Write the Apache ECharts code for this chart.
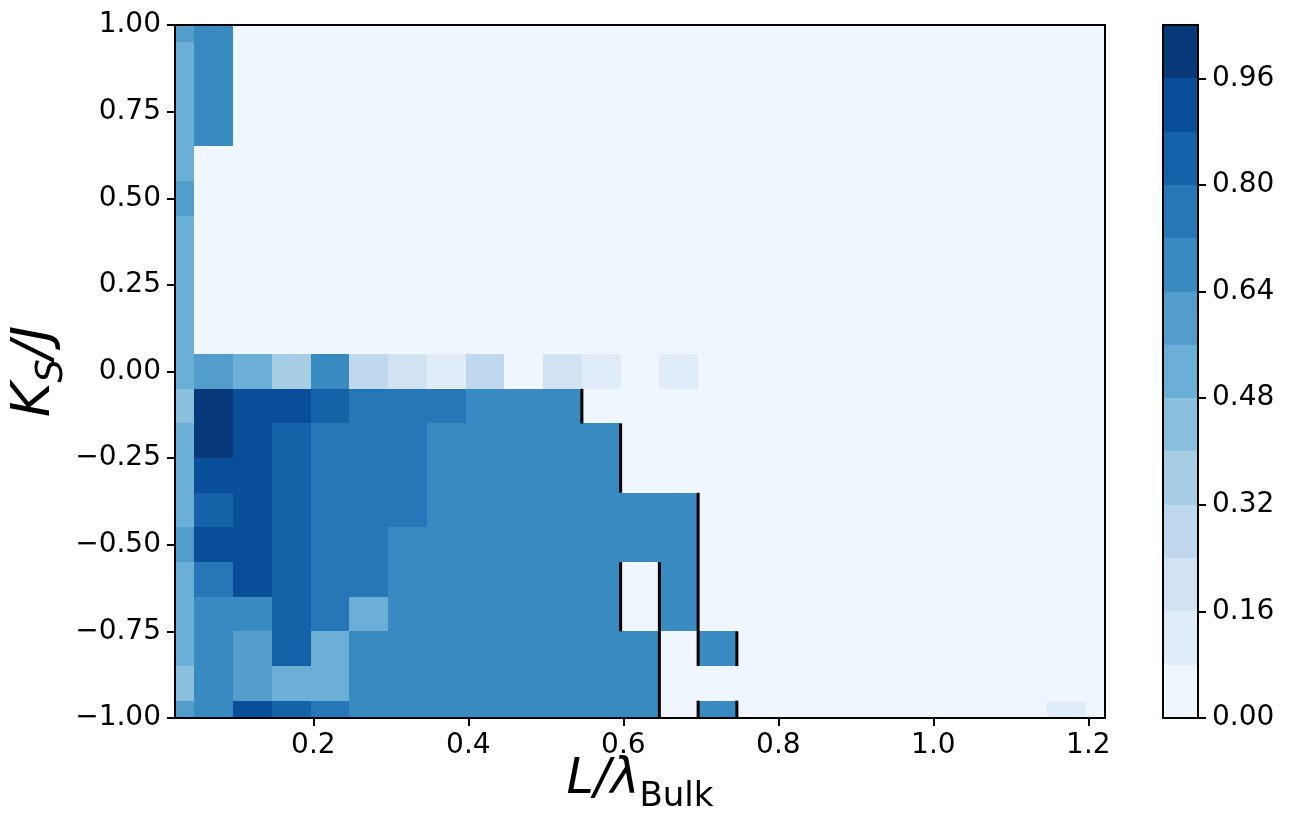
<!DOCTYPE html>
<html><head><meta charset="utf-8">
<script src="https://cdn.jsdelivr.net/npm/echarts@6/dist/echarts.min.js"></script>
<style>html,body{margin:0;padding:0;background:#fff}#c{width:1294px;height:836px}</style>
</head><body><div id="c"></div>
<script>
// ---- data ----
const xCenters = [0.0215,0.0715,0.1215,0.1715,0.2215,0.2715,0.3215,0.3715,0.4215,0.4715,0.5215,0.5715,0.6215,0.6715,0.7215,0.7715,0.8215,0.8715,0.9215,0.9715,1.0215,1.0715,1.1215,1.1715,1.2215];
const yCenters = [-1.0,-0.9,-0.8,-0.7,-0.6,-0.5,-0.4,-0.3,-0.2,-0.1,0.0,0.1,0.2,0.3,0.4,0.5,0.6,0.7,0.8,0.9,1.0];
// one row per yCenters entry (bottom to top), one value per xCenters entry
const cellRows = [
  [0.60,0.68,0.92,0.84,0.76,0.68,0.68,0.68,0.68,0.68,0.68,0.68,0.68,0,0.68,0,0,0,0,0,0,0,0,0.12,0],
  [0.44,0.68,0.60,0.52,0.52,0.68,0.68,0.68,0.68,0.68,0.68,0.68,0.68,0,0,0,0,0,0,0,0,0,0,0,0],
  [0.52,0.68,0.60,0.84,0.52,0.68,0.68,0.68,0.68,0.68,0.68,0.68,0.68,0,0.68,0,0,0,0,0,0,0,0,0,0],
  [0.52,0.68,0.68,0.84,0.76,0.52,0.68,0.68,0.68,0.68,0.68,0.68,0,0.68,0,0,0,0,0,0,0,0,0,0,0],
  [0.52,0.76,0.92,0.84,0.76,0.76,0.68,0.68,0.68,0.68,0.68,0.68,0,0.68,0,0,0,0,0,0,0,0,0,0,0],
  [0.60,0.92,0.92,0.84,0.76,0.76,0.68,0.68,0.68,0.68,0.68,0.68,0.68,0.68,0,0,0,0,0,0,0,0,0,0,0],
  [0.52,0.84,0.92,0.84,0.76,0.76,0.76,0.68,0.68,0.68,0.68,0.68,0.68,0.68,0,0,0,0,0,0,0,0,0,0,0],
  [0.52,0.92,0.92,0.84,0.76,0.76,0.76,0.68,0.68,0.68,0.68,0.68,0,0,0,0,0,0,0,0,0,0,0,0,0],
  [0.52,1.00,0.92,0.84,0.76,0.76,0.76,0.68,0.68,0.68,0.68,0.68,0,0,0,0,0,0,0,0,0,0,0,0,0],
  [0.44,1.00,0.92,0.92,0.84,0.76,0.76,0.76,0.68,0.68,0.68,0,0,0,0,0,0,0,0,0,0,0,0,0,0],
  [0.52,0.60,0.52,0.36,0.68,0.28,0.20,0.12,0.28,0,0.20,0.12,0,0.12,0,0,0,0,0,0,0,0,0,0,0],
  [0.52,0,0,0,0,0,0,0,0,0,0,0,0,0,0,0,0,0,0,0,0,0,0,0,0],
  [0.52,0,0,0,0,0,0,0,0,0,0,0,0,0,0,0,0,0,0,0,0,0,0,0,0],
  [0.52,0,0,0,0,0,0,0,0,0,0,0,0,0,0,0,0,0,0,0,0,0,0,0,0],
  [0.52,0,0,0,0,0,0,0,0,0,0,0,0,0,0,0,0,0,0,0,0,0,0,0,0],
  [0.60,0,0,0,0,0,0,0,0,0,0,0,0,0,0,0,0,0,0,0,0,0,0,0,0],
  [0.52,0,0,0,0,0,0,0,0,0,0,0,0,0,0,0,0,0,0,0,0,0,0,0,0],
  [0.52,0.68,0,0,0,0,0,0,0,0,0,0,0,0,0,0,0,0,0,0,0,0,0,0,0],
  [0.52,0.68,0,0,0,0,0,0,0,0,0,0,0,0,0,0,0,0,0,0,0,0,0,0,0],
  [0.52,0.68,0,0,0,0,0,0,0,0,0,0,0,0,0,0,0,0,0,0,0,0,0,0,0],
  [0.60,0.68,0,0,0,0,0,0,0,0,0,0,0,0,0,0,0,0,0,0,0,0,0,0,0]
];
// boundary segments: [x of cell edge, y from, y to]
const boundarySegments = [
  [0.5465,-0.15,-0.05],
  [0.5965,-0.35,-0.15],
  [0.5965,-0.75,-0.55],
  [0.6465,-1.00,-0.55],
  [0.6965,-0.85,-0.35],
  [0.6965,-1.00,-0.95],
  [0.7465,-0.85,-0.75],
  [0.7465,-1.00,-0.95]
];
const colorLevels = [0,0.08,0.16,0.24,0.32,0.40,0.48,0.56,0.64,0.72,0.80,0.88,0.96,1.04];
const levelColors = ['#eff6fd','#e0ecf8','#d1e2f3','#c0d8ed','#a7cee4','#8abfdd','#6baed6','#529dcc','#3a8ac2','#2676b8','#1562a9','#084e98','#083a7a'];
const xTickValues = [0.2,0.4,0.6,0.8,1.0,1.2];
const yTickValues = [-1,-0.75,-0.5,-0.25,0,0.25,0.5,0.75,1];
const cbarTickValues = [0,0.16,0.32,0.48,0.64,0.80,0.96];

// ---- build ----
const dx = xCenters[1]-xCenters[0];
const dy = yCenters[1]-yCenters[0];
const cellData = [];
cellRows.forEach((row,j)=>row.forEach((v,k)=>cellData.push([xCenters[k],yCenters[j],v])));
const cbarData = colorLevels.slice(0,-1).map((lo,i)=>[lo,colorLevels[i+1],(lo+colorLevels[i+1])/2]);

const FONT = 'DejaVu Sans';
const tickFont = {fontSize:28,color:'#000',fontFamily:FONT};
const lineS = {color:'#000',width:2};

function clipTo(rect, cs){
  return echarts.graphic.clipRectByRect(rect,{x:cs.x,y:cs.y,width:cs.width,height:cs.height});
}
function renderCell(params, api){
  const x=api.value(0), y=api.value(1);
  const p0=api.coord([x-dx/2,y+dy/2]);
  const p1=api.coord([x+dx/2,y-dy/2]);
  const x0=Math.round(p0[0]), y0=Math.round(p0[1]), x1=Math.round(p1[0]), y1=Math.round(p1[1]);
  const r=clipTo({x:x0,y:y0,width:x1-x0,height:y1-y0},params.coordSys);
  if(!r) return;
  return {type:'rect',shape:r,style:{fill:api.visual('color')}};
}
function renderBand(params, api){
  const p0=api.coord([0,api.value(1)]);
  const p1=api.coord([1,api.value(0)]);
  const y0=Math.round(p0[1]), y1=Math.round(p1[1]);
  return {type:'rect',shape:{x:p0[0],y:y0,width:p1[0]-p0[0],height:y1-y0},style:{fill:api.visual('color')}};
}
function renderSeg(params, api){
  const a=api.coord([api.value(0),api.value(1)]);
  const b=api.coord([api.value(0),api.value(2)]);
  return {type:'line',shape:{x1:a[0],y1:a[1],x2:b[0],y2:b[1]},style:{stroke:'#000',lineWidth:3}};
}
const fmt2 = v => (v<0?'\u2212':'')+Math.abs(v).toFixed(2);

const chart = echarts.init(document.getElementById('c'),null,{renderer:'canvas'});
chart.setOption({
  animation:false,
  backgroundColor:'#fff',
  grid:[
    {left:175,top:25,width:930,height:693,outerBoundsMode:'none',containLabel:false},
    {left:1163,top:25,width:35,height:693,outerBoundsMode:'none',containLabel:false}
  ],
  visualMap:[{
    type:'piecewise',show:false,dimension:2,seriesIndex:[0,2],
    pieces:colorLevels.slice(0,-1).map((lo,i)=>({gte:lo,lt:colorLevels[i+1],color:levelColors[i]}))
  }],
  xAxis:[
    {gridIndex:0,type:'value',min:xCenters[0],max:xCenters[xCenters.length-1],position:'bottom',z:10,
     axisLine:{show:true,onZero:false,lineStyle:lineS},
     axisTick:{show:true,customValues:xTickValues,length:8,lineStyle:lineS},
     axisLabel:Object.assign({customValues:xTickValues,margin:14,formatter:v=>v.toFixed(1)},tickFont),
     splitLine:{show:false},
     name:'{i|L/λ}{s|Bulk}',nameLocation:'middle',nameGap:38,nameMoveOverlap:false,
     nameTextStyle:{rich:{
       i:{fontSize:49,fontStyle:'italic',fontFamily:FONT,color:'#000',lineHeight:50,verticalAlign:'top'},
       s:{fontSize:34,fontFamily:FONT,color:'#000',lineHeight:34,padding:[24,0,0,0],verticalAlign:'top'}
     }}},
    {gridIndex:0,type:'value',min:xCenters[0],max:xCenters[xCenters.length-1],position:'top',z:10,
     axisLine:{show:true,onZero:false,lineStyle:lineS},axisTick:{show:false},axisLabel:{show:false},splitLine:{show:false}},
    {gridIndex:1,type:'value',min:0,max:1,position:'bottom',z:10,
     axisLine:{show:true,onZero:false,lineStyle:lineS},axisTick:{show:false},axisLabel:{show:false},splitLine:{show:false}},
    {gridIndex:1,type:'value',min:0,max:1,position:'top',z:10,
     axisLine:{show:true,onZero:false,lineStyle:lineS},axisTick:{show:false},axisLabel:{show:false},splitLine:{show:false}}
  ],
  yAxis:[
    {gridIndex:0,type:'value',min:-1,max:1,interval:0.25,position:'left',z:10,
     axisLine:{show:true,onZero:false,lineStyle:lineS},
     axisTick:{show:true,customValues:yTickValues,length:8,lineStyle:lineS},
     axisLabel:Object.assign({customValues:yTickValues,margin:14,formatter:fmt2},tickFont),
     splitLine:{show:false},
     name:'{i|K}{s|S}{i|/J}',nameLocation:'middle',nameRotate:90,nameGap:112,nameMoveOverlap:false,
     nameTextStyle:{rich:{
       i:{fontSize:53,fontStyle:'italic',fontFamily:FONT,color:'#000',lineHeight:54,verticalAlign:'top'},
       s:{fontSize:37,fontStyle:'italic',fontFamily:FONT,color:'#000',lineHeight:37,padding:[25,0,0,0],verticalAlign:'top'}
     }}},
    {gridIndex:0,type:'value',min:-1,max:1,position:'right',z:10,
     axisLine:{show:true,onZero:false,lineStyle:lineS},axisTick:{show:false},axisLabel:{show:false},splitLine:{show:false}},
    {gridIndex:1,type:'value',min:0,max:1.04,position:'right',z:10,
     axisLine:{show:true,onZero:false,lineStyle:lineS},
     axisTick:{show:true,customValues:cbarTickValues,length:8,lineStyle:lineS},
     axisLabel:Object.assign({customValues:cbarTickValues,margin:14,formatter:v=>v.toFixed(2)},tickFont),
     splitLine:{show:false}},
    {gridIndex:1,type:'value',min:0,max:1.04,position:'left',z:10,
     axisLine:{show:true,onZero:false,lineStyle:lineS},axisTick:{show:false},axisLabel:{show:false},splitLine:{show:false}}
  ],
  series:[
    {type:'custom',name:'cells',xAxisIndex:0,yAxisIndex:0,data:cellData,renderItem:renderCell,
     encode:{x:0,y:1},z:2,silent:true},
    {type:'custom',name:'boundary',xAxisIndex:0,yAxisIndex:0,data:boundarySegments,renderItem:renderSeg,
     encode:{x:0,y:[1,2]},z:5,silent:true},
    {type:'custom',name:'colorbar',xAxisIndex:2,yAxisIndex:2,data:cbarData,renderItem:renderBand,
     encode:{y:[0,1]},z:2,silent:true}
  ]
});
</script></body></html>
